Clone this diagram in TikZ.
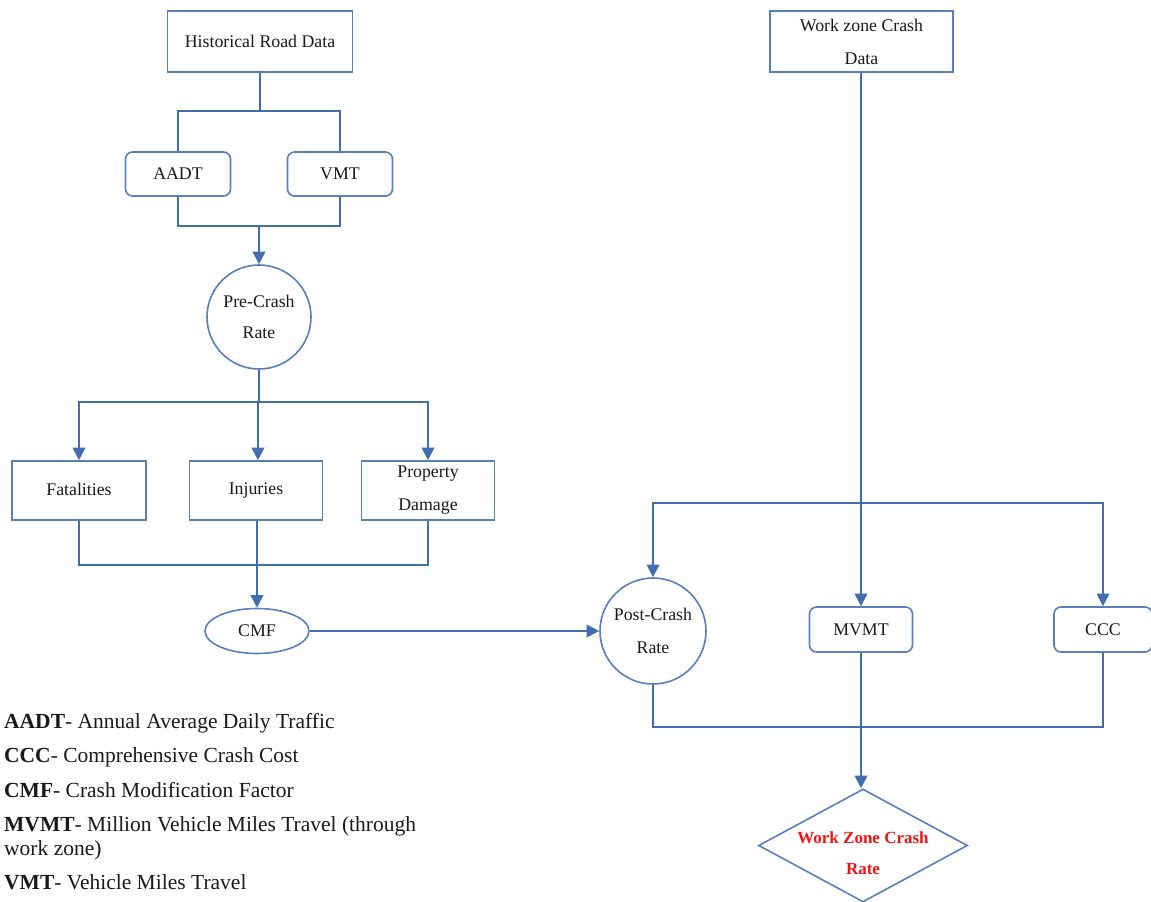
\documentclass[tikz,border=0pt]{standalone}
\usepackage{fontspec}
\setmainfont{Liberation Serif}
\usetikzlibrary{shapes.geometric,arrows.meta}
\definecolor{flowblue}{RGB}{66,110,176}
\definecolor{edgeblue}{RGB}{88,126,188}
\definecolor{alertred}{RGB}{240,20,20}
\begin{document}
\begin{tikzpicture}[x=1pt,y=-1pt,
  lbl/.style={font=\fontsize{17.8}{33}\selectfont, align=center, text=black!90},
  sqbox/.style={lbl, draw=edgeblue, line width=1.6pt, inner sep=0pt},
  rbox/.style={sqbox, rounded corners=7pt},
  rate/.style={lbl, draw=edgeblue, line width=1.6pt, circle, inner sep=0pt},
  link/.style={draw=flowblue, line width=2pt},
  arr/.style={link, -{Triangle[width=12.5pt,length=12.5pt]}},
  legend/.style={anchor=base west, inner sep=0pt, font=\fontsize{21.5}{24}\selectfont, text=black!90}
]
\useasboundingbox (0,0) rectangle (1151,902);

% left branch: historical data
\node[sqbox, minimum width=185pt, minimum height=61pt] (hist) at (260,41.5) {Historical Road Data};
\node[rbox, minimum width=105pt, minimum height=44pt] (aadt) at (178,174) {AADT};
\node[rbox, minimum width=105pt, minimum height=44pt] (vmt) at (340,174) {VMT};
\node[rate, minimum size=104pt] (pre) at (259,317) {\raisebox{-2pt}{Pre-Crash}\\Rate};
\node[sqbox, minimum width=134pt, minimum height=59pt] (fat) at (79,490.5) {\raisebox{3pt}{Fatalities}};
\node[sqbox, minimum width=133pt, minimum height=59pt] (inj) at (256,490.5) {\raisebox{-1pt}{Injuries}};
\node[sqbox, minimum width=133pt, minimum height=59pt] (prop) at (428,490.5) {Property\\Damage};
\node[lbl, draw=edgeblue, line width=1.6pt, ellipse, inner sep=0pt,
      minimum width=104pt, minimum height=45pt] (cmf) at (257,631) {CMF};

% right branch: work zone data
\node[sqbox, minimum width=183pt, minimum height=61pt] (wz) at (861.5,41.5) {Work zone Crash\\Data};
\node[rate, minimum size=106pt] (post) at (653,631) {\raisebox{-3pt}{Post-Crash}\\\raisebox{-3pt}{Rate}};
\node[rbox, minimum width=103pt, minimum height=45pt] (mvmt) at (861,629.5) {MVMT};
\node[rbox, minimum width=98pt, minimum height=45pt] (ccc) at (1103,629.5) {CCC};
\node[draw=edgeblue, line width=1.6pt, diamond, inner sep=0pt,
      minimum width=209pt, minimum height=113pt] (wzcr) at (863,845.5) {};
\node[lbl, text=alertred, font=\bfseries\fontsize{17}{31}\selectfont] (wzcrtext) at (863,853) {Work Zone Crash\\Rate};

% junction points of the bus lines
\coordinate (j1) at (260,111);
\coordinate (j2) at (259,226);
\coordinate (j3) at (258,402);
\coordinate (j4) at (257,565);
\coordinate (j5) at (861,503);
\coordinate (j6) at (861,727);

% connectors, left branch
\draw[link] (hist.south) -- (j1);
\draw[link] (aadt.north) |- (j1) -| (vmt.north);
\draw[link] (aadt.south) |- (j2) -| (vmt.south);
\draw[arr] (j2) -- (pre.north);
\draw[link] (pre.south) -- (pre.south |- j3);
\draw[arr] (j3) -| (fat.north);
\draw[arr] (j3) -| (prop.north);
\draw[arr] (j3) -- (j3 |- inj.north);
\draw[link] (fat.south) |- (j4) -| (prop.south);
\draw[arr] (j4 |- inj.south) -- (cmf.north);
\draw[arr] (cmf.east) -- (post.west);

% connectors, right branch
\draw[arr] (wz.south -| j5) -- (j5 |- mvmt.north);
\draw[arr] (j5) -| (post.north);
\draw[arr] (j5) -| (ccc.north);
\draw[link] (post.south) |- (j6) -| (ccc.south);
\draw[arr] (mvmt.south) -- (mvmt.south |- wzcr.north);

% abbreviations
\node[legend] (leg1) at (4,728) {\textbf{AADT}- Annual Average Daily Traffic};
\node[legend] (leg2) at (4,762) {\textbf{CCC}- Comprehensive Crash Cost};
\node[legend] (leg3) at (4,797) {\textbf{CMF}- Crash Modification Factor};
\node[legend] (leg4) at (4,831) {\textbf{MVMT}- Million Vehicle Miles Travel (through};
\node[legend] (leg5) at (4,855) {work zone)};
\node[legend] (leg6) at (4,889) {\textbf{VMT}- Vehicle Miles Travel};
\end{tikzpicture}
\end{document}
